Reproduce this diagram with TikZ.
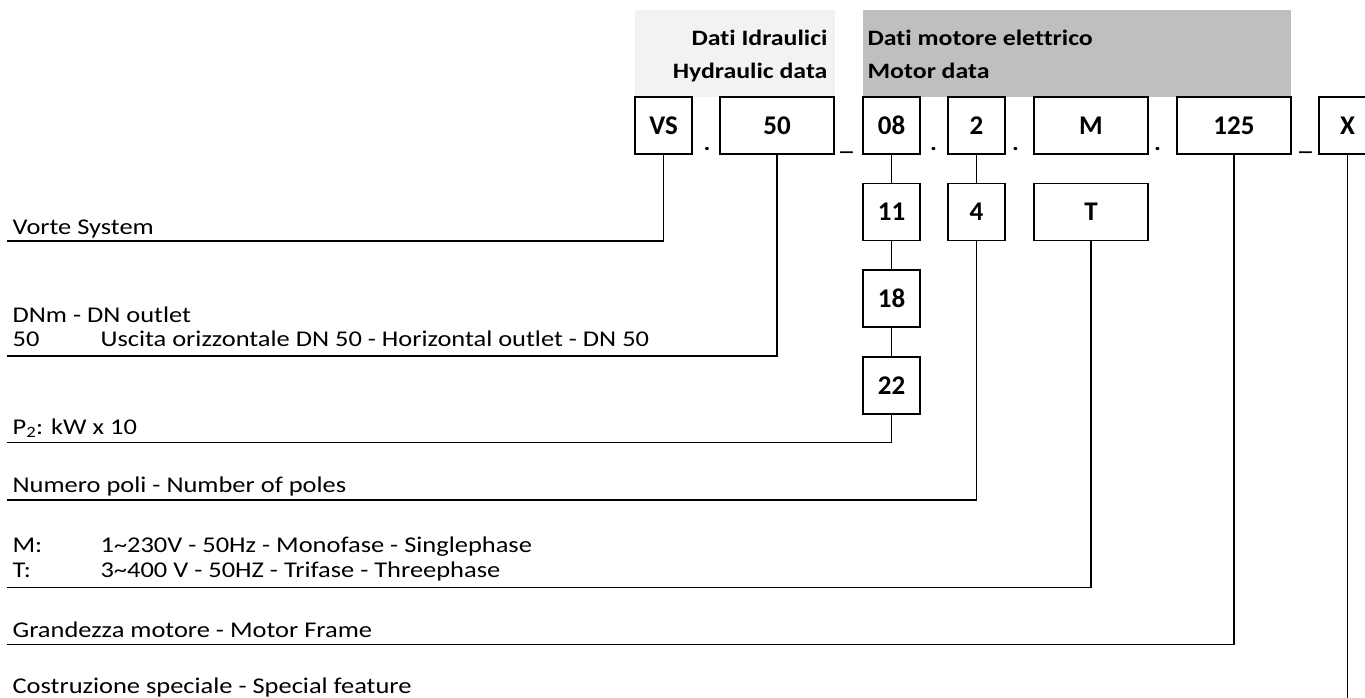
\documentclass[tikz,border=0pt]{standalone}
\usepackage{fontspec}
\setmainfont[Ligatures=NoCommon]{Carlito}
\newfontfamily\widefont[FakeStretch=1.175, Ligatures=NoCommon]{Carlito}
\usepackage{tikz}
\definecolor{hydrogray}{HTML}{F2F2F2}
\definecolor{motorgray}{HTML}{BFBFBF}

\begin{document}
\begin{tikzpicture}[x=1pt, y=-1pt, line width=1.2pt,
	code/.style={draw, minimum width=57pt, minimum height=57pt, inner sep=0pt, font=\fontsize{27}{29}\selectfont\bfseries},
	wide/.style={code, minimum width=114pt},
	head/.style={inner sep=0pt, font=\widefont\fontsize{22}{24}\selectfont\bfseries},
	legend/.style={anchor=base west, inner sep=0pt, font=\widefont\fontsize{22.5}{24}\selectfont},
	sep/.style={anchor=base, inner sep=0pt, font=\widefont\fontsize{22}{24}\selectfont\bfseries}]
	\useasboundingbox (0,0) rectangle (1365,697);
	% header cells
	\fill[hydrogray] (635,10) rectangle (835,97);
	\fill[motorgray] (863,10) rectangle (1291,97);
	\node[head, anchor=base east] (hydroA) at (828,45) {Dati Idraulici};
	\node[head, anchor=base east] (hydroB) at (828,78) {Hydraulic data};
	\node[head, anchor=base west] (motorA) at (867,45) {Dati motore elettrico};
	\node[head, anchor=base west] (motorB) at (867,78) {Motor data};
	% code boxes
	\node[code] (vs) at (663.5,125.5) {VS};
	\node[wide] (dn) at (777,125.5) {50};
	\node[code] (pw08) at (891.5,125.5) {08};
	\node[code] (pw11) at (891.5,212) {11};
	\node[code] (pw18) at (891.5,298.5) {18};
	\node[code] (pw22) at (891.5,385.5) {22};
	\node[code] (pol2) at (976.5,125.5) {2};
	\node[code] (pol4) at (976.5,212) {4};
	\node[wide] (phM) at (1091,125.5) {M};
	\node[wide] (phT) at (1091,212) {T};
	\node[wide] (fr) at (1234,125.5) {125};
	\node[code] (spec) at (1347.5,125.5) {X};
	\node[sep] (dotA) at (707,150) {.};
	\node[sep] (barA) at (846.5,150) {\_};
	\node[sep] (dotB) at (933.5,150) {.};
	\node[sep] (dotC) at (1015.5,150) {.};
	\node[sep] (dotD) at (1157.5,150) {.};
	\node[sep] (barB) at (1305.5,150) {\_};
	% legend
	\node[legend] (vorte) at (12,234) {Vorte System};
	\node[legend] (dnm) at (12,322) {DNm - DN outlet};
	\node[legend] (outlet) at (12,346) {\makebox[88pt][l]{50}Uscita orizzontale DN 50 - Horizontal outlet - DN 50};
	\node[legend] (ptwo) at (12,434) {P\textsubscript{2}: kW x 10};
	\node[legend] (poles) at (12,492) {Numero poli - Number of poles};
	\node[legend] (mono) at (12,552) {\makebox[88pt][l]{M:}1\textasciitilde 230V - 50Hz - Monofase - Singlephase};
	\node[legend] (tri) at (12,577) {\makebox[88pt][l]{T:}3\textasciitilde 400 V - 50HZ - Trifase - Threephase};
	\node[legend] (frame) at (12,637) {Grandezza motore - Motor Frame};
	\node[legend] (special) at (12,693) {Costruzione speciale - Special feature};
	\coordinate (vsL) at (7,241);
	\coordinate (dnL) at (7,356);
	\coordinate (pwL) at (7,442.5);
	\coordinate (polL) at (7,500);
	\coordinate (phL) at (7,587.5);
	\coordinate (frL) at (7,644.5);
	\coordinate (specB) at (1347.5,700);
	% connectors
	\draw (vs.south) |- (vsL);
	\draw (dn.south) |- (dnL);
	\draw (pw08) -- (pw11);
	\draw (pw11) -- (pw18);
	\draw (pw18) -- (pw22);
	\draw (pw22.south) |- (pwL);
	\draw (pol2) -- (pol4);
	\draw (pol4.south) |- (polL);
	\draw (phT.south) |- (phL);
	\draw (fr.south) |- (frL);
	\draw (spec.south) -- (specB);
\end{tikzpicture}
\end{document}
